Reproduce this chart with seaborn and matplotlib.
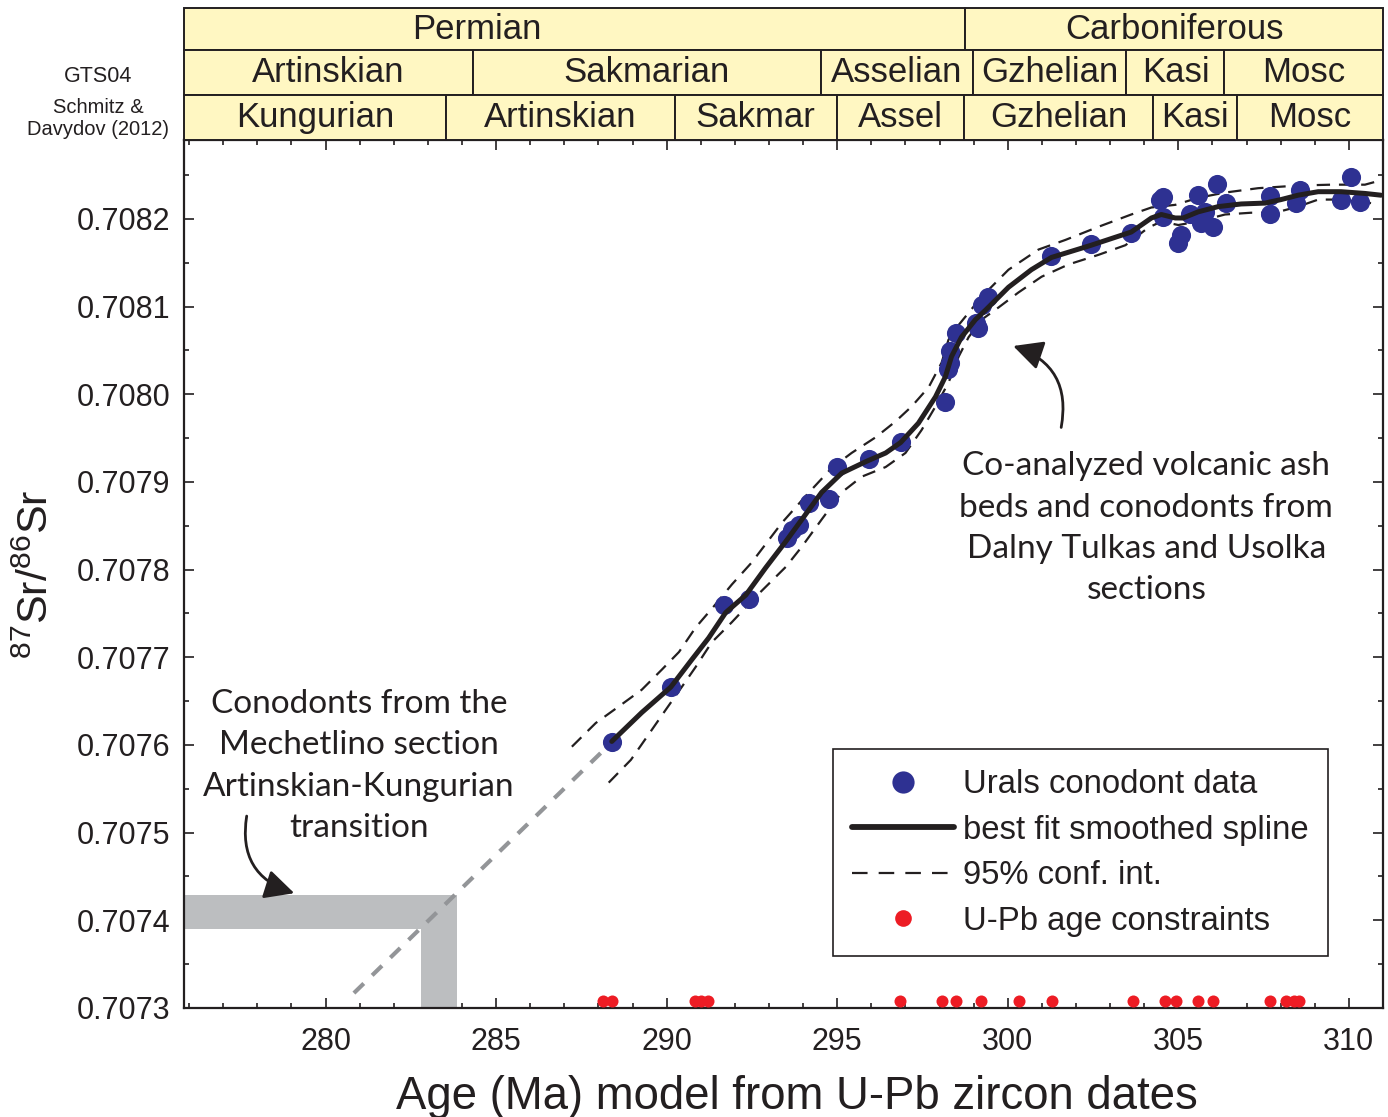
import numpy as np
import pandas as pd
import matplotlib
matplotlib.use("Agg")
import matplotlib.pyplot as plt
import seaborn as sns
from matplotlib.patches import Rectangle, FancyArrowPatch
from matplotlib.lines import Line2D
from matplotlib.ticker import MultipleLocator

# Urals conodont data (age Ma, 87Sr/86Sr)
cono_age = [288.39, 290.12, 291.67, 292.40, 293.52, 293.66, 293.87, 294.16, 294.75,
            294.98, 295.92, 296.86, 298.17, 298.26, 298.32, 298.30, 298.47, 299.14,
            299.08, 299.23, 299.41, 301.28, 302.45, 303.62, 304.56, 304.45, 304.56,
            305.00, 305.09, 305.35, 305.59, 305.65, 305.79, 306.03, 306.14, 306.41,
            307.70, 307.70, 308.46, 308.58, 309.78, 310.07, 310.33]
cono_sr = [0.707603, 0.707666, 0.707760, 0.707766, 0.707836, 0.707845, 0.707851, 0.707876, 0.707880,
           0.707917, 0.707926, 0.707946, 0.707991, 0.708029, 0.708049, 0.708036, 0.708070, 0.708076,
           0.708081, 0.708102, 0.708111, 0.708158, 0.708171, 0.708184, 0.708225, 0.708222, 0.708202,
           0.708173, 0.708182, 0.708205, 0.708227, 0.708195, 0.708208, 0.708191, 0.708240, 0.708218,
           0.708226, 0.708206, 0.708218, 0.708233, 0.708222, 0.708248, 0.708219]

# U-Pb age constraints (plotted along the bottom)
upb_age = [288.13, 288.40, 290.84, 291.02, 291.22, 296.84, 298.06, 298.49, 299.21, 300.32,
           301.31, 303.66, 304.61, 304.92, 305.58, 306.03, 307.70, 308.15, 308.40, 308.55]
upb_level = 0.707308

# best fit smoothed spline
spl_age = [288.39, 289.27, 290.12, 290.73, 291.23, 291.73, 292.32, 292.90, 293.49, 293.96,
           294.54, 295.13, 295.83, 296.42, 296.86, 297.38, 297.88, 298.17, 298.35, 298.64,
           299.05, 299.35, 300.02, 300.69, 301.28, 302.45, 303.15, 303.62, 304.21, 304.50,
           304.91, 305.14, 305.58, 306.17, 306.84, 307.54, 308.01, 308.51, 309.10, 309.77,
           310.47, 310.94]
spl_sr = [0.707604, 0.707637, 0.707666, 0.707697, 0.707722, 0.707751, 0.707771, 0.707802, 0.707832, 0.707857,
          0.707888, 0.707910, 0.707923, 0.707933, 0.707945, 0.707967, 0.707997, 0.708020, 0.708043, 0.708065,
          0.708085, 0.708096, 0.708122, 0.708142, 0.708156, 0.708170, 0.708179, 0.708185, 0.708201, 0.708205,
          0.708201, 0.708201, 0.708208, 0.708214, 0.708217, 0.708218, 0.708222, 0.708227, 0.708231, 0.708231,
          0.708229, 0.708227]

# 95% confidence interval
ci_up_age = [287.22, 287.92, 288.60, 289.27, 289.86, 290.36, 290.85, 291.38, 291.91, 292.49,
             293.37, 294.10, 294.84, 295.42, 296.13, 296.71, 297.18, 297.68, 298.06, 298.26,
             298.56, 299.23, 300.02, 300.90, 301.69, 302.66, 303.62, 304.21, 304.91, 305.58,
             306.37, 307.34, 308.51, 309.48, 310.47, 310.94]
ci_up_sr = [0.707598, 0.707625, 0.707644, 0.707663, 0.707686, 0.707706, 0.707734, 0.707758, 0.707783, 0.707808,
            0.707853, 0.707885, 0.707916, 0.707933, 0.707951, 0.707969, 0.707986, 0.708008, 0.708036, 0.708062,
            0.708079, 0.708111, 0.708142, 0.708165, 0.708176, 0.708191, 0.708205, 0.708213, 0.708216, 0.708224,
            0.708230, 0.708235, 0.708238, 0.708239, 0.708239, 0.708244]
ci_lo_age = [288.30, 288.95, 289.47, 289.97, 290.44, 290.85, 291.32, 291.91, 292.61, 293.49,
             293.96, 294.54, 295.13, 295.72, 296.42, 297.00, 297.47, 297.88, 298.26, 298.56,
             298.85, 299.23, 299.73, 300.31, 300.99, 301.78, 302.66, 303.45, 304.12, 304.50,
             305.00, 305.58, 306.37, 307.13, 307.84, 308.51, 309.10, 309.77, 310.65]
ci_lo_sr = [0.707557, 0.707583, 0.707612, 0.707640, 0.707666, 0.707689, 0.707717, 0.707740, 0.707769, 0.707803,
            0.707826, 0.707857, 0.707888, 0.707906, 0.707917, 0.707933, 0.707959, 0.707986, 0.708013, 0.708043,
            0.708065, 0.708085, 0.708099, 0.708116, 0.708134, 0.708148, 0.708159, 0.708170, 0.708190, 0.708197,
            0.708193, 0.708197, 0.708205, 0.708207, 0.708207, 0.708214, 0.708222, 0.708222, 0.708218]

# extrapolation to the Mechetlino value
ext_age = [280.83, 288.60]
ext_sr = [0.707317, 0.707611]

# Mechetlino band (Sr range and age range)
mech_sr = [0.707390, 0.707429]
mech_age = [282.80, 283.85]

# time scale rows: names and boundaries (Ma)
XMIN, XMAX = 275.85, 311.0
row_period = ["Permian", "Carboniferous"]
row_period_edges = [XMIN, 298.75, XMAX]
row_period_label_x = [284.44, 304.88]
row_gts = ["Artinskian", "Sakmarian", "Asselian", "Gzhelian", "Kasi", "Mosc"]
row_gts_edges = [XMIN, 284.32, 294.51, 298.99, 303.48, 306.35, XMAX]
row_sd = ["Kungurian", "Artinskian", "Sakmar", "Assel", "Gzhelian", "Kasi", "Mosc"]
row_sd_edges = [XMIN, 283.53, 290.24, 294.98, 298.73, 304.27, 306.73, XMAX]

BLUE = "#2e3192"
RED = "#ed1c24"
GREY = "#939598"
BAND = "#bcbec0"
YELLOW = "#fff7c2"
INK = "#231f20"

sns.set_style("ticks")
plt.rcParams["font.family"] = ["Liberation Sans", "DejaVu Sans"]
plt.rcParams["mathtext.fontset"] = "custom"
plt.rcParams["mathtext.rm"] = "Liberation Sans"
plt.rcParams["mathtext.it"] = "Liberation Sans"
plt.rcParams["mathtext.default"] = "regular"
ANNOT_FONT = ["Lato", "DejaVu Sans"]

fig = plt.figure(figsize=(13.88, 11.17), dpi=100)
ax = fig.add_axes([0.1326, 0.0976, 0.8638, 0.7771])

# grey Mechetlino bands
ax.add_patch(Rectangle((XMIN, mech_sr[0]), mech_age[1] - XMIN, mech_sr[1] - mech_sr[0],
                       color=BAND, lw=0, zorder=1))
ax.add_patch(Rectangle((mech_age[0], 0.7073), mech_age[1] - mech_age[0], mech_sr[0] - 0.7073,
                       color=BAND, lw=0, zorder=1))

ext = pd.DataFrame({"age": ext_age, "sr": ext_sr})
sns.lineplot(data=ext, x="age", y="sr", ax=ax, color=GREY, lw=3, linestyle=(0, (3.3, 2.8)),
             estimator=None, sort=False, zorder=2)

ci_up = pd.DataFrame({"age": ci_up_age, "sr": ci_up_sr})
ci_lo = pd.DataFrame({"age": ci_lo_age, "sr": ci_lo_sr})
for d in (ci_up, ci_lo):
    sns.lineplot(data=d, x="age", y="sr", ax=ax, color=INK, lw=1.6, linestyle=(0, (6, 4)),
                 estimator=None, sort=False, zorder=3)

cono = pd.DataFrame({"age": cono_age, "sr": cono_sr})
sns.scatterplot(data=cono, x="age", y="sr", ax=ax, color=BLUE, s=190, linewidth=0, zorder=4)

spl = pd.DataFrame({"age": spl_age, "sr": spl_sr})
sns.lineplot(data=spl, x="age", y="sr", ax=ax, color=INK, lw=3.6, estimator=None, sort=False, zorder=5)

upb = pd.DataFrame({"age": upb_age, "sr": upb_level})
sns.scatterplot(data=upb, x="age", y="sr", ax=ax, color=RED, s=75, linewidth=0, zorder=4)

ax.set_xlim(XMIN, XMAX)
ax.set_ylim(0.7073, 0.70829)
ax.xaxis.set_major_locator(MultipleLocator(5))
ax.xaxis.set_minor_locator(MultipleLocator(1))
ax.yaxis.set_major_locator(MultipleLocator(0.0001))
ax.yaxis.set_minor_locator(MultipleLocator(0.00005))
ax.yaxis.set_major_formatter(matplotlib.ticker.FormatStrFormatter("%.4f"))
ax.tick_params(which="both", direction="in", top=True, right=True, width=1.2, colors=INK,
               labelsize=22, labelcolor=INK)
ax.tick_params(which="major", length=7.5)
ax.tick_params(which="minor", length=3.8)
ax.tick_params(axis="x", pad=14)
ax.tick_params(axis="y", pad=10)
for sp in ax.spines.values():
    sp.set_linewidth(1.6)
    sp.set_color(INK)

ax.set_xlabel("Age (Ma) model from U-Pb zircon dates", fontsize=32.8, color=INK)
ax.xaxis.set_label_coords(0.511, -0.077)
ax.set_ylabel("$^{87}$Sr/$^{86}$Sr", fontsize=31, color=INK)
ax.yaxis.set_label_coords(-0.106, 0.5)

# annotations
ax.text(304.06, 0.707847, "Co-analyzed volcanic ash\nbeds and conodonts from\nDalny Tulkas and Usolka\nsections",
        ha="center", va="center", fontsize=24, family=ANNOT_FONT, color=INK, linespacing=1.47)
ax.text(280.98, 0.707576, "Conodonts from the\nMechetlino section\nArtinskian-Kungurian\ntransition",
        ha="center", va="center", fontsize=24, family=ANNOT_FONT, color=INK, linespacing=1.47)
ax.add_patch(FancyArrowPatch((301.55, 0.707959), (300.08, 0.708056), connectionstyle="arc3,rad=0.45",
                             arrowstyle="-|>,head_length=0.9,head_width=0.45", mutation_scale=20,
                             lw=2, color=INK, zorder=6))
ax.add_patch(FancyArrowPatch((277.70, 0.707522), (279.16, 0.707430), connectionstyle="arc3,rad=0.45",
                             arrowstyle="-|>,head_length=0.9,head_width=0.45", mutation_scale=20,
                             lw=2, color=INK, zorder=6))

# legend
handles = [
    Line2D([], [], ls="", marker="o", color=BLUE, markersize=16, markeredgewidth=0),
    Line2D([], [], color=INK, lw=4.2, solid_capstyle="round"),
    Line2D([], [], color=INK, lw=1.6, linestyle=(0, (7, 5))),
    Line2D([], [], ls="", marker="o", color=RED, markersize=12, markeredgewidth=0),
]
labels = ["Urals conodont data", "best fit smoothed spline", "95% conf. int.", "U-Pb age constraints"]
leg = ax.legend(handles, labels, loc="upper left", bbox_to_anchor=(0.541, 0.298), borderaxespad=0,
                fontsize=23.7, handlelength=3.1, handletextpad=0.25, labelspacing=0.44, borderpad=0.6,
                frameon=True, fancybox=False, edgecolor=INK, framealpha=1)
leg.get_frame().set_linewidth(1.2)
for t in leg.get_texts():
    t.set_color(INK)

# geologic time scale header
hdr = fig.add_axes([0.1326, 0.8747, 0.8638, 0.1181])
hdr.set_xlim(XMIN, XMAX)
hdr.set_ylim(0, 132)
hdr.axis("off")
rows = [(row_period, row_period_edges, row_period_label_x, 90, 42),
        (row_gts, row_gts_edges, None, 45, 45),
        (row_sd, row_sd_edges, None, 0, 45)]
for names, edges, label_x, y0, h in rows:
    for i, name in enumerate(names):
        hdr.add_patch(Rectangle((edges[i], y0), edges[i + 1] - edges[i], h, facecolor=YELLOW,
                                edgecolor=INK, lw=1.4, clip_on=False))
        xc = label_x[i] if label_x else (edges[i] + edges[i + 1]) / 2
        hdr.text(xc, y0 + h / 2, name, ha="center", va="center", fontsize=25, color=INK)
fig.text(0.0706, 0.9315, "GTS04", ha="center", va="center", fontsize=15.5, color=INK)
fig.text(0.0706, 0.894, "Schmitz &\nDavydov (2012)", ha="center", va="center", fontsize=14.5,
         color=INK, linespacing=1.15)

fig.savefig("out.png", dpi=100)
